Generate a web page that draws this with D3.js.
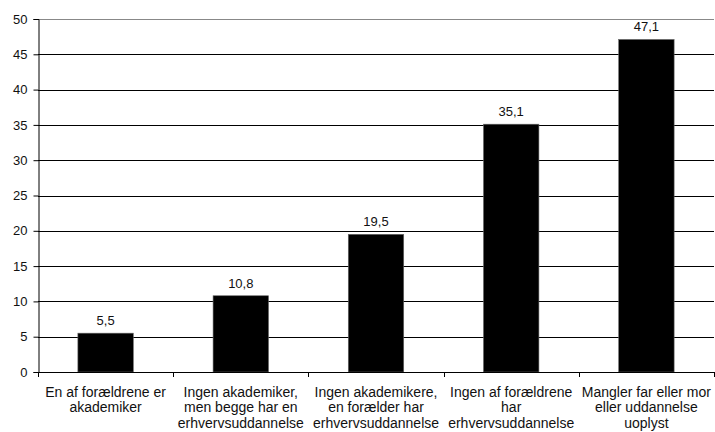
<!DOCTYPE html>
<html>
<head>
<meta charset="utf-8">
<script src="https://cdn.jsdelivr.net/npm/d3@7"></script>
<style>
  body { margin: 0; background: #fff; }
  svg { display: block; font-family: "Liberation Sans", Arial, sans-serif; }
</style>
</head>
<body>
<div id="chart"></div>
<script>
'use strict';

const categories = [
  ['En af forældrene er', 'akademiker'],
  ['Ingen akademiker,', 'men begge har en', 'erhvervsuddannelse'],
  ['Ingen akademikere,', 'en forælder har', 'erhvervsuddannelse'],
  ['Ingen af forældrene', 'har', 'erhvervsuddannelse'],
  ['Mangler far eller mor', 'eller uddannelse', 'uoplyst']
];
const values = [5.5, 10.8, 19.5, 35.1, 47.1];
const yTicks = [0, 5, 10, 15, 20, 25, 30, 35, 40, 45, 50];

const W = 715, H = 432;
const m = { top: 19, right: 1, bottom: 60, left: 38 };

const $svg = d3.select('#chart').append('svg').attr('width', W).attr('height', H);

const x = d3.scaleBand().domain(d3.range(values.length))
  .range([m.left, W - m.right]).paddingInner(0).paddingOuter(0);
const y = d3.scaleLinear().domain([0, 50]).range([H - m.bottom, m.top]);

const barW = x.bandwidth() * 0.41;

// gridlines
$svg.append('g').selectAll('line')
  .data(yTicks.filter((d) => d > 0))
  .enter().append('line')
  .attr('x1', m.left).attr('x2', W - m.right)
  .attr('y1', (d) => Math.round(y(d)) + 0.5).attr('y2', (d) => Math.round(y(d)) + 0.5)
  .attr('stroke', (d) => d === 50 ? '#888' : '#000')
  .attr('stroke-width', 1);

// bars
$svg.append('g').selectAll('rect')
  .data(values)
  .enter().append('rect')
  .attr('x', (d, i) => x(i) + (x.bandwidth() - barW) / 2)
  .attr('y', (d) => y(d))
  .attr('width', barW)
  .attr('height', (d) => y(0) - y(d))
  .attr('fill', '#000')
  .attr('stroke', '#666')
  .attr('stroke-width', 0.6);

// value labels
$svg.append('g').selectAll('text')
  .data(values)
  .enter().append('text')
  .attr('x', (d, i) => x(i) + x.bandwidth() / 2)
  .attr('y', (d) => y(d) - 8)
  .attr('text-anchor', 'middle')
  .attr('font-size', 13)
  .attr('fill', '#111')
  .text((d) => d.toFixed(1).replace('.', ','));

// y axis
const yAxis = d3.axisLeft(y).tickValues(yTicks).tickSize(5).tickPadding(6)
  .tickFormat((d) => d);
const $ya = $svg.append('g').attr('transform', `translate(${m.left + 0.5},0)`).call(yAxis);
$ya.select('.domain').attr('stroke', '#000');
$ya.selectAll('text').attr('font-size', 13).attr('fill', '#111').attr('font-family', null);

// x axis
const xEdges = d3.range(values.length + 1).map((i) => m.left + i * x.step());
const $xa = $svg.append('g');
$xa.append('line')
  .attr('x1', m.left).attr('x2', W - m.right)
  .attr('y1', Math.round(y(0)) + 0.5).attr('y2', Math.round(y(0)) + 0.5)
  .attr('stroke', '#000');
$xa.selectAll('.tick')
  .data(xEdges)
  .enter().append('line')
  .attr('x1', (d) => Math.round(d) + 0.5).attr('x2', (d) => Math.round(d) + 0.5)
  .attr('y1', y(0)).attr('y2', y(0) + 5)
  .attr('stroke', '#000');

const $labels = $svg.append('g').selectAll('text')
  .data(categories)
  .enter().append('text')
  .attr('text-anchor', 'middle')
  .attr('font-size', 14)
  .attr('fill', '#111');
$labels.each(function (lines, i) {
  d3.select(this).selectAll('tspan')
    .data(lines)
    .enter().append('tspan')
    .attr('x', x(i) + x.bandwidth() / 2)
    .attr('y', (d, j) => 397 + j * 15.3)
    .text((d) => d);
});
</script>
</body>
</html>
